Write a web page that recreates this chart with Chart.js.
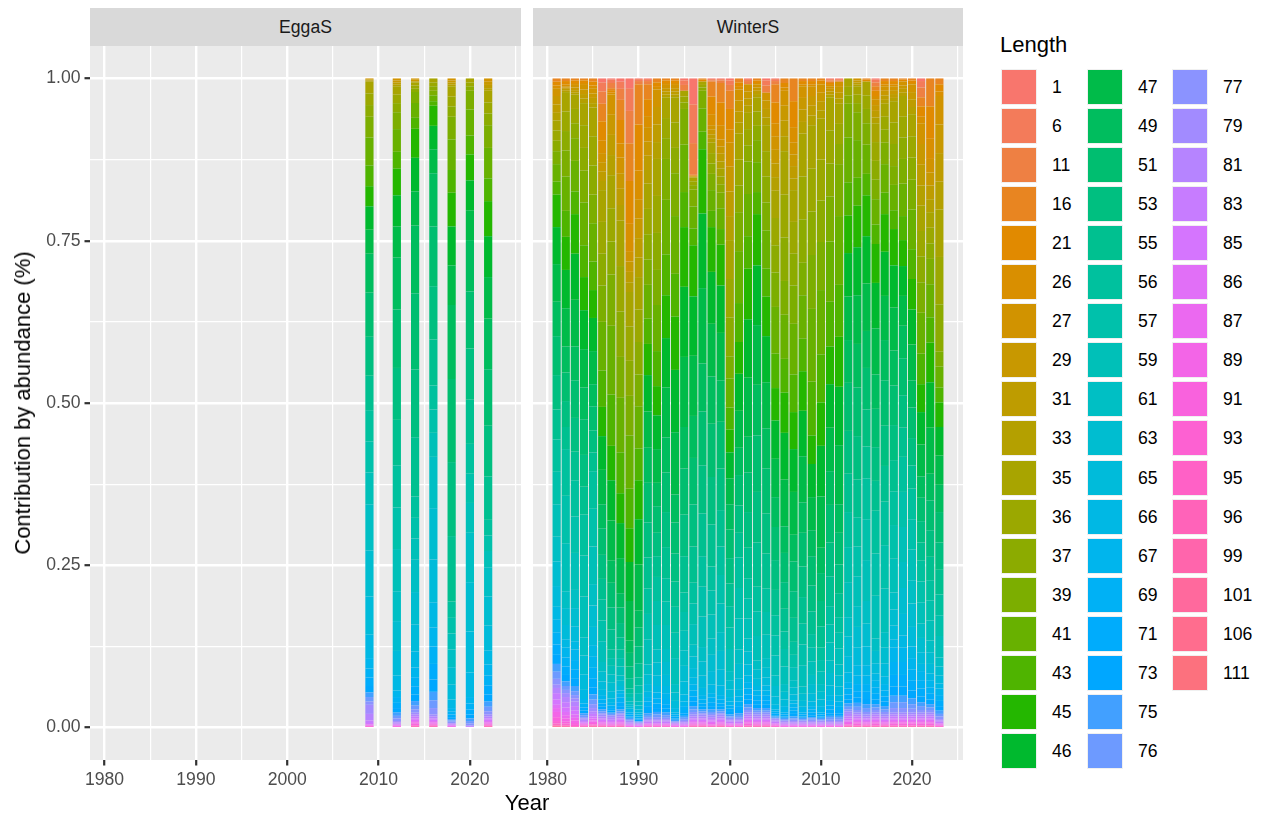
<!DOCTYPE html>
<html>
<head>
<meta charset="utf-8">
<script src="https://cdn.jsdelivr.net/npm/chart.js@4.4.1/dist/chart.umd.min.js"></script>
<style>
  html, body { margin: 0; padding: 0; background: #fff; }
  body { width: 1270px; height: 822px; position: relative; overflow: hidden; font-family: 'Liberation Sans', Arial, sans-serif; }
  canvas { position: absolute; }
  .strip { position: absolute; top: 8px; height: 38px; background: #d9d9d9; color: #1a1a1a; font-size: 17.6px;
           display: flex; align-items: center; justify-content: center; }
  .txt { position: absolute; white-space: nowrap; color: #000; }
  .key { position: absolute; width: 36px; height: 36px; box-sizing: border-box; border: 1px solid #f0f0f0; }
  .klab { position: absolute; font-size: 17.6px; color: #000; line-height: 36px; height: 36px; }
</style>
</head>
<body>
<div class="strip" style="left:90px;width:431px">EggaS</div>
<div class="strip" style="left:533px;width:430px">WinterS</div>
<canvas id="chart-egga" width="525" height="776" style="left:0;top:46px"></canvas>
<canvas id="chart-winter" width="445" height="776" style="left:525px;top:46px"></canvas>
<div class="txt" style="left:527px;top:790px;transform:translateX(-50%);font-size:22px">Year</div>
<div class="txt" style="left:23px;top:403px;transform:translate(-50%,-50%) rotate(-90deg);font-size:22px">Contribution by abundance (%)</div>
<div class="txt" style="left:1000px;top:34px;font-size:22px;line-height:22px">Length</div>
<div id="legend"></div>

<script>
// Length classes (legend order, first one sits on top of each stack)
const lengths = [1, 6, 11, 16, 21, 26, 27, 29, 31, 33, 35, 36, 37, 39, 41, 43, 45, 46,
  47, 49, 51, 53, 55, 56, 57, 59, 61, 63, 65, 66, 67, 69, 71, 73, 75, 76,
  77, 79, 81, 83, 85, 86, 87, 89, 91, 93, 95, 96, 99, 101, 106, 111];

// Axis breaks
const xBreaks = [1980, 1985, 1990, 1995, 2000, 2005, 2010, 2015, 2020, 2025];
const xLabels = [1980, 1990, 2000, 2010, 2020];
const yBreaks = [0, 0.125, 0.25, 0.375, 0.5, 0.625, 0.75, 0.875, 1];
const yLabels = [0, 0.25, 0.5, 0.75, 1];

// EggaS survey years and per-mille shares by length class (same order as lengths)
const eggaYears = [2009, 2012, 2014, 2016, 2018, 2020, 2022];
const eggaShares = [
  [0,0,0, 0,0,0, 1,1,1,2, 18,18,18, 32,43,32, 31,36,37, 60,68,60,53, 48,48,49, 71,71,59,36, 16,14,13,10,7,7,5, 14,10,4,2,1,1,1,1,1,0,0,0,0,0,0],
  [0,0,0, 0,0,0, 3,3,3,3, 13,13,14, 26,35,26, 41,48,48, 80,90,80,70, 65,64,65, 46,46,38,23, 10,9,8,7,5,4,4, 2,2,1,1,1,1,1,1,0,0,0,0,0,0,0],
  [0,0,0, 0,0,0, 2,2,1,1, 5,5,5, 17,23,17, 45,52,53, 105,118,105,92, 33,32,33, 50,50,42,25, 15,14,13,10,7,6,5, 3,3,3,2,2,2,2,2,1,1,1,1,0,0,0],
  [0,0,0, 0,0,0, 0,0,0,0, 6,6,7, 7,9,7, 31,36,37, 82,92,82,71, 37,36,37, 79,79,66,39, 29,27,24,19,13,12,10, 3,3,2,2,2,2,1,1,1,1,1,1,0,0,0],
  [0,0,0, 0,0,0, 3,3,3,3, 16,15,16, 35,47,35, 52,60,61, 114,128,114,101, 25,24,25, 27,27,23,13, 5,5,4,3,2,2,2, 1,1,1,1,1,1,1,0,0,0,0,0,0,0,0],
  [0,0,0, 0,0,0, 0,0,0,0, 6,6,7, 29,40,29, 40,46,46, 79,88,79,68, 46,45,46, 76,76,63,38, 10,9,8,6,4,4,3, 1,1,1,0,0,0,0,0,0,0,0,0,0,0,0],
  [0,0,0, 0,0,0, 5,5,5,4, 18,17,18, 35,47,35, 54,63,64, 78,87,78,67, 24,24,25, 45,45,38,22, 17,15,14,11,8,7,5, 3,3,2,2,2,2,1,1,1,1,1,1,0,0,0],
];

// WinterS survey years and per-mille shares by length class
const winterYears = [1981, 1982, 1983, 1984, 1985, 1986, 1987, 1988, 1989, 1990, 1991, 1992, 1993, 1994,
  1995, 1996, 1997, 1998, 1999, 2000, 2001, 2002, 2003, 2004, 2005, 2006, 2007, 2008, 2009,
  2010, 2011, 2012, 2013, 2014, 2015, 2016, 2017, 2018, 2019, 2020, 2021, 2022, 2023];
const winterShares = [
  [0,0,0, 5,6,4, 12,13,13,12, 15,16,16, 20,27,20, 50,57,58, 53,60,53,46, 50,50,50, 38,38,32,20, 20,18,16,14,12,11,9, 5,8,10,8,5,6,8,6,4,2,1,1,1,1,0],
  [0,0,0, 4,5,3, 2,2,3,2, 30,30,30, 40,53,40, 51,59,59, 40,44,40,34, 72,73,74, 26,26,22,13, 15,14,13,10,7,6,5, 6,8,8,7,5,5,5,3,2,1,1,1,1,0,0],
  [0,0,0, 3,4,3, 4,4,4,3, 22,22,23, 35,47,35, 61,71,72, 52,58,52,44, 56,56,57, 28,28,23,13, 16,15,14,11,8,6,5, 5,7,7,6,5,4,4,3,2,1,1,0,0,0,0],
  [0,0,0, 3,4,3, 7,7,7,7, 34,35,35, 49,66,49, 51,60,59, 49,55,49,43, 63,63,63, 28,29,24,14, 7,6,5,4,3,3,2, 2,2,2,1,1,1,1,1,1,1,1,0,0,0,0],
  [0,0,0, 5,6,4, 8,7,8,7, 44,45,45, 44,59,44, 43,51,51, 34,37,34,29, 58,58,58, 33,33,28,17, 18,16,14,11,8,7,6, 5,4,4,3,3,2,2,2,1,1,1,1,1,0,0],
  [6,14,19, 27,30,19, 14,14,15,14, 49,49,49, 56,75,56, 45,52,53, 37,41,37,32, 32,32,32, 15,15,13,8, 7,6,5,4,3,3,2, 3,3,2,2,2,2,1,1,1,1,1,1,0,0,0],
  [2,5,8, 3,4,3, 31,31,31,31, 51,51,51, 79,106,79, 53,62,62, 34,38,34,31, 13,12,13, 13,13,11,7, 4,4,4,3,2,2,1, 3,3,2,2,2,1,1,1,1,1,1,0,0,0,0],
  [5,11,17, 31,36,22, 24,24,25,24, 70,70,70, 63,84,63, 46,54,54, 22,24,22,19, 13,13,14, 8,8,7,4, 7,7,6,5,3,3,2, 3,3,2,2,2,2,1,1,1,1,1,1,0,0,0],
  [15,35,50, 58,66,42, 16,16,16,15, 53,53,54, 61,82,61, 52,60,61, 19,21,18,16, 7,6,7, 4,4,3,2, 4,3,3,2,2,2,1, 2,2,1,1,1,1,1,1,0,0,0,0,0,0,0],
  [1,3,5, 62,71,44, 30,30,30,30, 50,50,50, 49,65,49, 60,70,71, 26,29,26,22, 12,12,13, 6,6,5,3, 3,3,2,2,1,1,1, 1,1,1,1,1,1,1,0,0,0,0,0,0,0,0],
  [1,3,5, 23,26,17, 22,22,22,21, 39,39,39, 39,52,39, 48,56,56, 54,61,54,48, 39,39,39, 15,15,12,8, 7,7,6,5,4,3,2, 2,2,2,1,1,1,1,1,1,1,0,0,0,0,0],
  [0,0,0, 6,7,4, 27,27,27,26, 57,57,57, 54,71,54, 45,52,52, 36,41,36,32, 37,37,38, 20,20,16,10, 9,8,7,6,4,4,3, 2,2,2,1,1,1,1,1,1,1,0,0,0,0,0],
  [0,0,0, 3,4,3, 5,5,5,4, 32,31,32, 63,84,63, 66,76,77, 54,61,54,48, 36,36,37, 20,20,17,11, 9,8,7,6,4,4,2, 2,2,2,1,1,1,1,1,1,1,0,0,0,0,0],
  [0,0,0, 3,4,3, 5,5,5,4, 39,39,39, 66,89,66, 82,96,96, 43,48,43,39, 40,39,40, 13,13,11,7, 3,3,3,2,2,1,1, 1,1,1,1,1,1,1,1,0,0,0,0,0,0,0],
  [3,7,9, 0,0,0, 0,0,0,0, 9,9,10, 55,73,54, 92,108,108, 64,71,64,56, 30,29,30, 24,24,20,11, 7,6,5,4,3,3,2, 2,2,1,1,1,1,1,1,0,0,0,0,0,0,0],
  [40,60,49, 1,1,0, 1,1,0,0, 6,6,7, 26,34,26, 79,92,93, 65,72,65,56, 32,32,32, 18,18,15,10, 10,9,8,7,5,4,4, 3,3,2,2,2,2,1,1,1,1,1,1,0,0,0],
  [0,0,0, 2,2,1, 0,0,0,0, 5,4,5, 27,36,27, 99,115,116, 74,83,74,66, 47,46,47, 22,22,19,11, 7,6,5,4,3,3,2, 3,3,2,2,2,2,1,1,1,1,1,1,0,0,0],
  [1,2,2, 23,27,17, 7,7,7,6, 16,16,16, 25,32,25, 69,80,81, 73,82,73,65, 37,37,37, 25,25,21,13, 7,7,6,5,4,3,2, 3,3,2,2,2,2,1,1,1,1,1,0,0,0,0],
  [1,2,4, 30,35,22, 11,11,12,11, 12,12,13, 24,32,24, 63,73,73, 64,72,64,56, 44,44,44, 29,29,24,15, 7,6,5,4,3,3,2, 3,3,2,2,2,2,1,1,1,1,1,1,0,0,0],
  [3,7,9, 28,32,20, 37,38,38,37, 60,59,60, 34,45,34, 35,40,40, 39,44,39,35, 33,33,34, 14,14,12,7, 6,5,5,4,3,2,2, 2,2,2,1,1,1,1,1,1,1,0,0,0,0,0],
  [0,0,0, 6,7,4, 17,17,17,17, 40,40,41, 60,80,60, 49,57,57, 42,47,42,38, 47,47,48, 22,22,18,10, 8,7,6,5,4,3,2, 2,2,2,1,1,1,1,1,1,1,0,0,0,0,0],
  [1,3,5, 0,0,0, 11,11,11,11, 25,25,25, 50,65,50, 78,90,91, 55,61,55,47, 31,31,31, 20,20,17,10, 10,9,8,7,5,4,4, 3,3,3,2,2,2,2,2,1,1,1,1,0,0,0],
  [0,0,0, 3,4,2, 5,5,5,5, 22,22,22, 34,46,34, 79,92,92, 78,87,78,68, 38,38,38, 14,14,11,7, 8,7,7,5,4,3,3, 3,3,2,2,2,2,1,1,1,1,1,1,0,0,0],
  [3,8,11, 0,0,0, 12,13,13,12, 40,39,40, 43,59,43, 61,71,71, 62,69,62,54, 36,35,36, 15,15,12,8, 8,7,7,5,4,3,3, 3,3,2,2,2,2,1,1,1,1,1,1,0,0,0],
  [1,3,5, 28,32,20, 21,21,21,21, 42,42,42, 53,72,53, 50,59,59, 46,51,46,39, 31,31,31, 16,16,13,7, 3,3,3,2,2,1,1, 2,2,2,1,1,1,1,1,1,1,0,0,0,0,0],
  [0,0,0, 7,7,5, 23,23,24,23, 67,66,67, 52,68,52, 62,72,72, 41,45,41,35, 27,27,27, 12,12,10,6, 4,3,3,2,2,2,1, 2,2,1,1,1,1,1,1,0,0,0,0,0,0,0],
  [0,0,0, 35,40,24, 18,18,19,18, 49,49,49, 59,78,58, 57,66,66, 41,46,41,37, 20,19,20, 11,11,9,5, 6,5,5,4,3,2,2, 2,2,1,1,1,1,1,1,0,0,0,0,0,0,0],
  [0,0,0, 4,5,3, 18,18,19,18, 66,66,67, 50,67,50, 61,70,71, 47,52,47,41, 32,32,33, 11,11,9,5, 4,3,3,2,2,2,1, 2,2,1,1,1,1,1,1,0,0,0,0,0,0,0],
  [0,0,0, 4,5,3, 15,15,15,15, 67,66,67, 83,112,83, 44,51,51, 40,45,40,35, 21,21,21, 14,15,12,7, 5,5,4,3,2,2,2, 2,2,1,1,1,1,1,1,0,0,0,0,0,0,0],
  [0,0,0, 3,4,2, 13,13,14,13, 63,63,64, 74,99,74, 67,78,79, 39,43,39,33, 19,18,19, 12,12,10,6, 4,3,3,2,2,2,1, 2,2,1,1,1,1,1,1,0,0,0,0,0,0,0],
  [1,2,2, 2,3,2, 4,4,5,4, 51,51,51, 69,93,69, 58,67,67, 52,58,52,46, 28,28,28, 19,19,15,9, 7,6,6,4,3,3,2, 2,2,1,1,1,1,1,1,0,0,0,0,0,0,0],
  [1,2,2, 0,0,0, 8,9,9,8, 31,31,31, 80,106,80, 77,90,91, 44,49,44,37, 24,24,25, 17,17,14,9, 7,6,5,4,3,3,2, 2,2,1,1,1,1,1,1,0,0,0,0,0,0,0],
  [0,0,0, 0,0,0, 0,0,0,0, 13,13,13, 52,69,51, 58,67,67, 66,74,66,59, 54,54,54, 30,30,25,15, 10,9,8,6,5,4,3, 4,4,3,3,2,2,2,1,1,1,1,1,0,0,0],
  [0,0,0, 0,0,0, 3,3,3,3, 13,13,14, 43,58,43, 64,74,75, 67,75,67,58, 45,46,46, 32,32,27,16, 13,11,10,8,6,5,4, 3,3,3,2,2,2,2,2,1,1,1,1,0,0,0],
  [0,0,0, 2,2,1, 0,0,0,0, 21,21,22, 33,45,33, 63,73,73, 57,64,57,49, 63,63,63, 35,35,29,16, 13,12,11,8,6,6,4, 3,3,2,2,2,2,1,1,1,1,1,1,0,0,0],
  [2,4,6, 7,8,5, 9,9,10,9, 29,29,29, 30,39,30, 60,70,71, 53,59,52,46, 66,65,66, 19,19,16,10, 11,10,9,7,5,4,4, 3,3,3,2,2,2,2,2,1,1,1,1,0,0,0],
  [0,0,0, 4,5,3, 7,7,7,6, 20,20,20, 33,44,33, 58,68,68, 62,70,62,55, 67,67,67, 24,24,20,12, 10,9,8,7,5,4,4, 3,3,2,2,2,2,1,1,1,1,1,1,0,0,0],
  [0,0,0, 4,5,3, 6,6,6,5, 33,33,34, 29,39,29, 56,65,66, 54,61,54,48, 52,52,52, 26,25,21,13, 22,20,18,14,10,9,7, 3,3,3,2,2,2,2,2,1,1,1,1,0,0,0],
  [0,0,0, 2,2,1, 6,5,6,5, 32,32,33, 38,50,37, 40,46,46, 50,57,50,45, 54,54,54, 40,40,33,19, 22,20,18,14,10,9,7, 3,3,3,2,2,2,2,2,1,1,1,1,0,0,0],
  [0,0,0, 3,4,2, 12,11,12,11, 34,33,34, 46,61,46, 47,54,55, 42,47,42,36, 47,47,47, 36,36,30,18, 18,17,15,12,9,7,6, 3,3,3,2,2,2,2,2,1,1,1,1,0,0,0],
  [4,10,15, 14,16,10, 32,32,32,31, 39,39,40, 47,63,47, 43,50,49, 33,36,33,28, 32,32,33, 22,22,18,11, 14,13,12,9,6,6,4, 3,3,3,2,2,2,2,2,1,1,1,1,0,0,0],
  [0,0,0, 43,50,31, 21,20,21,20, 24,24,24, 39,51,39, 61,70,71, 41,46,41,36, 31,31,31, 18,18,15,10, 11,10,9,7,5,4,4, 3,3,3,2,2,2,2,2,1,1,1,1,0,0,0],
  [0,0,0, 9,11,7, 44,44,44,43, 73,73,73, 23,32,23, 38,44,45, 42,47,42,38, 32,32,33, 14,14,12,8, 10,9,8,7,5,4,4, 2,2,2,1,1,1,1,1,1,1,0,0,0,0,0],
];

// --- ggplot2 default hue palette (hcl, c = 100, l = 65) ---
function hcl(h, c, l) {
  const hr = h * Math.PI / 180;
  const U = c * Math.cos(hr), V = c * Math.sin(hr);
  const Y = l > 7.999592 ? Math.pow((l + 16) / 116, 3) : l / 903.3;
  const u = U / (13 * l) + 0.1978398, v = V / (13 * l) + 0.4683363;
  const X = 9 * Y * u / (4 * v);
  const Z = -X / 3 - 5 * Y + 3 * Y / v;
  const lin = [
    3.240479 * X - 1.537150 * Y - 0.498535 * Z,
    -0.969256 * X + 1.875992 * Y + 0.041556 * Z,
    0.055648 * X - 0.204043 * Y + 1.057311 * Z,
  ];
  return '#' + lin.map(t => {
    const g = t > 0.0031308 ? 1.055 * Math.pow(t, 1 / 2.4) - 0.055 : 12.92 * t;
    return Math.round(255 * Math.min(1, Math.max(0, g))).toString(16).padStart(2, '0');
  }).join('');
}
const colors = lengths.map((_, i) => hcl((15 + i * 360 / lengths.length) % 360, 100, 65));

// --- Legend (3 columns, filled by column) ---
const legend = document.getElementById('legend');
const perCol = Math.ceil(lengths.length / 3);
const colKeyX = [1001, 1087, 1172];
lengths.forEach((len, i) => {
  const col = Math.floor(i / perCol), row = i % perCol;
  const top = 68.5 + row * 39.1;
  const key = document.createElement('div');
  key.className = 'key';
  key.style.left = colKeyX[col] + 'px';
  key.style.top = top + 'px';
  key.style.background = colors[i];
  legend.appendChild(key);
  const lab = document.createElement('div');
  lab.className = 'klab';
  lab.style.left = (colKeyX[col] + 51) + 'px';
  lab.style.top = top + 'px';
  lab.textContent = len;
  legend.appendChild(lab);
});

// --- Panels ---
const FONT = "'Liberation Sans', Arial, sans-serif";

const panelBg = {
  id: 'panelBg',
  beforeDraw(chart) {
    const a = chart.chartArea, ctx = chart.ctx;
    ctx.save();
    ctx.fillStyle = '#ebebeb';
    ctx.fillRect(a.left, a.top, a.right - a.left, a.bottom - a.top);
    ctx.restore();
  },
};

function buildDatasets(years, rows) {
  const totals = rows.map(r => r.reduce((a, b) => a + b, 0));
  return lengths.map((len, k) => ({
    label: String(len),
    data: years.map((yr, j) => ({ x: yr, y: rows[j][k] / totals[j] })),
    backgroundColor: colors[k],
    borderWidth: 0,
  })).reverse(); // first length class ends up on top of the stack
}

// keep the plot area exactly where the axes say (no label overflow padding)
function fixBox(size, key) {
  return s => {
    s[key] = size;
    s.paddingTop = 0; s.paddingBottom = 0; s.paddingLeft = 0; s.paddingRight = 0;
  };
}

function makePanel(canvasId, years, rows, opts) {
  return new Chart(document.getElementById(canvasId), {
    type: 'bar',
    data: { datasets: buildDatasets(years, rows) },
    options: {
      responsive: false,
      animation: false,
      events: [],
      layout: { autoPadding: false, padding: { left: 0, right: opts.rightPad, top: 0, bottom: 0 } },
      datasets: { bar: { categoryPercentage: 1, barPercentage: opts.barPct } },
      plugins: { legend: { display: false }, tooltip: { enabled: false } },
      scales: {
        x: {
          type: 'linear',
          stacked: true,
          offset: false,
          min: 1978.405,
          max: 2025.595,
          afterBuildTicks: axis => { axis.ticks = xBreaks.map(v => ({ value: v })); },
          afterFit: fixBox(62, 'height'),
          border: { display: false },
          grid: {
            offset: false,
            color: '#ffffff',
            lineWidth: c => (c.tick && xLabels.includes(c.tick.value)) ? 2.4 : 1.2,
            drawTicks: true,
            tickLength: 5.5,
            tickWidth: 2.2,
            tickColor: c => (c.tick && xLabels.includes(c.tick.value)) ? '#333333' : 'rgba(0,0,0,0)',
          },
          ticks: {
            autoSkip: false,
            maxRotation: 0,
            padding: 4,
            color: '#4d4d4d',
            font: { family: FONT, size: 17.6 },
            callback: v => xLabels.includes(v) ? String(v) : '',
          },
        },
        y: {
          stacked: true,
          min: -0.05,
          max: 1.05,
          afterBuildTicks: axis => { axis.ticks = yBreaks.map(v => ({ value: v })); },
          afterFit: fixBox(opts.yWidth, 'width'),
          border: { display: false },
          grid: {
            color: '#ffffff',
            lineWidth: c => (c.tick && yLabels.includes(c.tick.value)) ? 2.4 : 1.2,
            drawTicks: opts.showY,
            tickLength: 5.5,
            tickWidth: 2.2,
            tickColor: c => (c.tick && yLabels.includes(c.tick.value)) ? '#333333' : 'rgba(0,0,0,0)',
          },
          ticks: {
            display: opts.showY,
            autoSkip: false,
            padding: 4,
            color: '#4d4d4d',
            font: { family: FONT, size: 17.6 },
            callback: v => yLabels.includes(v) ? v.toFixed(2) : '',
          },
        },
      },
    },
    plugins: [panelBg],
  });
}

// EggaS years are 2 apart at the closest, WinterS 1 apart: both bars come out 0.9 year wide
makePanel('chart-egga', eggaYears, eggaShares, { barPct: 0.45, rightPad: 4, yWidth: 90, showY: true });
makePanel('chart-winter', winterYears, winterShares, { barPct: 0.9, rightPad: 7, yWidth: 8, showY: false });
</script>
</body>
</html>
